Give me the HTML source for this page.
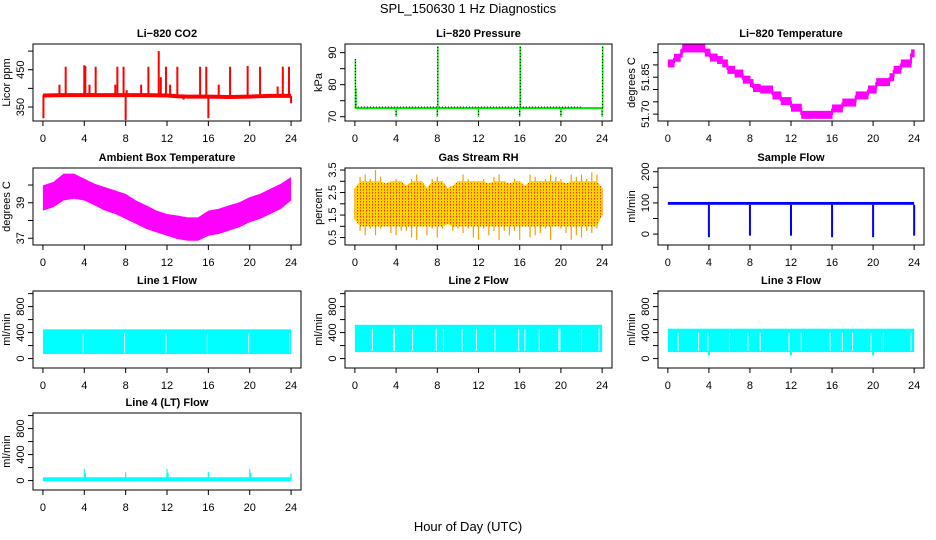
<!DOCTYPE html>
<html><head><meta charset="utf-8"><style>
html,body{margin:0;padding:0;background:#fff;}
svg{display:block;font-family:"Liberation Sans",Arial,sans-serif;}
</style></head><body>
<svg id="c" width="936" height="540" xmlns="http://www.w3.org/2000/svg">
<text x="468" y="13" text-anchor="middle" font-size="13">SPL_150630  1 Hz Diagnostics</text>
<text x="468" y="531" text-anchor="middle" font-size="13">Hour of Day (UTC)</text>
</svg>
<script>
// ---------- data ----------
const xTicks = [0,4,8,12,16,20,24];
// CO2
const co2BaseHours = [0,2,4,6,8,10,12,13,14,16,18,20,22,24];
const co2BaseValues = [381,382,382,382,382,382,381,379,378,378,377,378,380,380];
const co2SpikeHours = [0.05,1.6,2.2,4.0,4.1,4.5,5.1,7.0,7.2,7.8,8.0,8.1,9.5,10.2,11.2,11.4,11.9,12.3,13.0,13.6,15.2,15.8,16.0,17.0,18.1,19.8,20.0,21.0,22.7,23.2,23.8,24.0];
const co2SpikeValues = [320,410,458,462,460,410,458,410,458,458,315,395,410,458,500,430,458,410,458,370,458,458,320,410,458,460,375,458,405,458,458,360];
// Pressure
const presBase = 72.7;
const presSpikeHours = [0.05,0.1,4,8,8.05,12,16,16.05,20,24,24.05];
const presSpikeValues = [88,79,70,70,92,70,70,92,70,70,92];
// Li-820 temperature steps
const tStepStart = [0,0.6,1.2,1.4,3.6,4.1,4.8,5.3,5.8,6.5,7.3,8,8.3,9,10.2,11,12,13,16,17,18.3,19.5,20.3,21.6,22,22.7,23.7];
const tStepEnd =   [0.6,1.2,1.4,3.6,4.1,4.8,5.3,5.8,6.5,7.3,8,8.3,9,10.2,11,12,13,16,17,18.3,19.5,20.3,21.6,22,22.7,23.7,24];
const tStepValue = [51.906,51.929,51.947,51.967,51.950,51.930,51.920,51.906,51.880,51.865,51.840,51.826,51.806,51.800,51.776,51.753,51.726,51.697,51.723,51.747,51.776,51.800,51.830,51.850,51.880,51.906,51.947];
// Ambient box temperature envelope (hourly)
const ambHours = [0,1,2,3,4,5,6,7,8,9,10,11,12,13,14,15,16,17,18,19,20,21,22,23,24];
const ambMax = [39.98,40.17,40.64,40.64,40.36,40.07,39.88,39.69,39.5,39.13,38.85,38.56,38.37,38.28,38.18,38.18,38.56,38.66,38.85,39.03,39.32,39.5,39.79,40.07,40.45];
const ambMin = [38.56,38.75,39.13,39.23,39.13,38.85,38.56,38.37,38.09,37.81,37.52,37.33,37.14,36.96,36.86,36.86,37.14,37.24,37.43,37.62,37.9,38.09,38.37,38.65,39.13];
// Gas stream RH envelope (half-hourly)
const rhHours = [0,0.5,1,1.5,2,2.5,3,3.5,4,4.5,5,5.5,6,6.5,7,7.5,8,8.5,9,9.5,10,10.5,11,11.5,12,12.5,13,13.5,14,14.5,15,15.5,16,16.5,17,17.5,18,18.5,19,19.5,20,20.5,21,21.5,22,22.5,23,23.5,24];
const rhMax = [2.7,3.2,3.3,3.1,3.5,3.2,2.9,3.0,3.1,3.0,2.8,3.1,3.3,3.0,2.7,3.1,3.2,3.0,2.7,2.8,3.0,3.3,3.1,3.0,3.0,3.1,2.9,3.2,3.3,3.0,2.9,3.1,3.0,2.8,3.3,3.2,3.0,3.1,3.3,3.2,3.1,2.9,3.3,3.2,3.3,3.1,3.4,3.3,2.7];
const rhMin = [1.3,0.8,0.6,0.9,0.6,0.9,1.0,0.7,0.6,0.8,0.8,0.5,0.4,1.0,0.6,0.9,0.5,0.9,1.1,0.8,0.9,0.7,0.9,0.5,0.4,0.9,0.6,0.8,0.4,0.8,0.6,0.8,0.4,1.0,0.5,0.6,0.7,0.9,0.4,1.0,0.9,0.7,0.4,0.6,0.5,0.8,0.7,0.9,1.5];
const rhCoreMax = 2.7, rhCoreMin = 1.3;
// Sample flow
const sfLow = 94, sfHigh = 103;
const sfDipHours = [4,8,12,16,20,24];
const sfDipValues = [-10,-5,-5,-10,-10,-5];
// Line flows
const l1Low = 70, l1High = 450;
const l1GapHours = [3.9,7.9,11.9,15.9,19.9,23.85];
const l2Low = 100, l2High = 520;
const l2GapHours = [1.7,3.75,3.85,5.6,7.9,8.6,10.4,11.8,13.6,15.9,16.5,17.9,19.8,19.9,22.0,23.7];
const l3Low = 100, l3High = 460;
const l3GapHours = [1.0,3.0,3.9,6.0,7.8,9.0,11.8,13.0,15.8,17.0,18.0,19.8,21.0,23.7];
const l3DipHours = [4.0,12.0,20.0];
const l3DipValues = [50,50,50];
// Line 4
const l4Base = 20;
const l4SpikeHours = [4.0,4.1,8.0,12.0,12.1,16.0,20.0,20.1,24.0];
const l4SpikeValues = [180,120,130,180,120,130,180,120,110];

// ---------- layout ----------
const svg = document.getElementById('c');
const NS = 'http://www.w3.org/2000/svg';
function el(tag, attrs, parent){const e=document.createElementNS(NS,tag);for(const k in attrs)e.setAttribute(k,attrs[k]);(parent||svg).appendChild(e);return e;}
const colX = [33,345,658], colW = [268,267,266];
const rowY = [44,168,291,413], rowH = 77;
function mkPanel(c,r,ymin,ymax,title,ylab,ticks,labels,name){
  const p={x:colX[c],y:rowY[r],w:colW[c],h:rowH,ymin,ymax};
  const g=el('g',{});
  
  
  p.g=g;
  p.sx=h=>p.x+p.w*(0.04+h/24)/1.08;
  p.sy=v=>p.y+p.h*(1-(v-ymin)/(ymax-ymin));
  const t=el('text',{x:p.x+p.w/2,y:p.y-7,'text-anchor':'middle','font-size':11,'font-weight':'bold'},g);
  t.textContent=title;
  
  
  const cid='clip'+c+r;
  const cp=el('clipPath',{id:cid},g);el('rect',{x:p.x,y:p.y,width:p.w,height:p.h},cp);
  p.pg=el('g',{'clip-path':'url(#'+cid+')'},g);
  p.axes=function(){
    const b=el('rect',{x:p.x,y:p.y,width:p.w,height:p.h,fill:'none',stroke:'#000','stroke-width':1},g);
    
    
    const by=p.y+p.h;
    el('line',{x1:p.sx(0),x2:p.sx(24),y1:by,y2:by,stroke:'#000'},g);
    xTicks.forEach(h=>{
      const X=p.sx(h);
      el('line',{x1:X,x2:X,y1:by,y2:by+5,stroke:'#000'},g);
      const tx=el('text',{x:X,y:by+21,'text-anchor':'middle','font-size':11},g);
      tx.textContent=h;
      
      
    });
    const lx=p.x;
    el('line',{x1:lx,x2:lx,y1:p.sy(ticks[0]),y2:p.sy(ticks[ticks.length-1]),stroke:'#000'},g);
    ticks.forEach(v=>{const Y=p.sy(v);el('line',{x1:lx-5,x2:lx,y1:Y,y2:Y,stroke:'#000'},g);});
    labels.forEach(v=>{
      const Y=p.sy(v);
      const tx=el('text',{x:0,y:0,transform:'translate('+(lx-9)+','+Y+') rotate(-90)','text-anchor':'middle','font-size':11},g);
      tx.textContent=v;
      
      
    });
    const yt=el('text',{x:0,y:0,transform:'translate('+(lx-23)+','+(p.y+p.h/2)+') rotate(-90)','text-anchor':'middle','font-size':11},g);
    yt.textContent=ylab;
    
    
  };
  return p;
}
function vline(p,h,v1,v2,col,w){return el('line',{x1:p.sx(h),x2:p.sx(h),y1:p.sy(v1),y2:p.sy(v2),stroke:col,'stroke-width':w},p.pg);}
function band(p,hs,hi,lo,col){
  let d='M'+hs.map((h,i)=>p.sx(h)+','+p.sy(hi[i])).join('L');
  for(let i=hs.length-1;i>=0;i--)d+='L'+p.sx(hs[i])+','+p.sy(lo[i]);
  return el('path',{d:d+'Z',fill:col},p.pg);
}

// 1. CO2
let p=mkPanel(0,0,312.5,519,'Li\u2212820 CO2','Licor ppm',[350,400,450,500],[350,450],'co2');
co2SpikeHours.forEach((h,i)=>{
  const base=co2BaseValues[Math.min(co2BaseValues.length-1,co2BaseHours.findIndex(x=>x>=h))];
  const s=vline(p,h,base,co2SpikeValues[i],'#ff0000',2);
  
  
});
let ln=el('polyline',{points:co2BaseHours.map((h,i)=>p.sx(h)+','+p.sy(co2BaseValues[i])).join(' '),fill:'none',stroke:'#ff0000','stroke-width':4},p.pg);


p.axes();

// 2. Pressure
p=mkPanel(1,0,68.66,92.7,'Li\u2212820 Pressure','kPa',[70,75,80,85,90],[70,80,90],'pressure');
presSpikeHours.forEach((h,i)=>{
  const s=vline(p,h,presBase,presSpikeValues[i],'#00ee00',1.5);
  
  
  const d=vline(p,h,presBase,presSpikeValues[i],'#000',1);d.setAttribute('stroke-dasharray','1,2');
});
ln=el('line',{x1:p.sx(0),x2:p.sx(24),y1:p.sy(presBase),y2:p.sy(presBase),stroke:'#00ee00','stroke-width':2},p.pg);


el('line',{x1:p.sx(0),x2:p.sx(22),y1:p.sy(presBase)-1,y2:p.sy(presBase)-1,stroke:'#000','stroke-width':1,'stroke-dasharray':'1,2'},p.pg);
p.axes();

// 3. Li-820 temp
p=mkPanel(2,0,51.672,51.985,'Li\u2212820 Temperature','degrees C',[51.7,51.75,51.8,51.85,51.9,51.95],['51.70','51.85'],'licor-temp');
tStepStart.forEach((s,i)=>{
  const r=el('rect',{x:p.sx(s),y:p.sy(tStepValue[i])-4,width:p.sx(tStepEnd[i])-p.sx(s)+0.5,height:8,fill:'#ff00ff'},p.pg);
  
  
  if(i>0) vline(p,s,tStepValue[i-1],tStepValue[i],'#ff00ff',2);
});
p.axes();

// 4. Ambient
p=mkPanel(0,1,36.62,40.96,'Ambient Box Temperature','degrees C',[37,38,39,40],[37,39],'ambient-temp');
let b=band(p,ambHours,ambMax,ambMin,'#ff00ff');


p.axes();

// 5. RH
p=mkPanel(1,1,0.17,3.59,'Gas Stream RH','percent',[0.5,1,1.5,2,2.5,3,3.5],[0.5,1.5,2.5,3.5],'rh');
const defs=el('defs',{});
const pat=el('pattern',{id:'rhpat',width:3,height:3,patternUnits:'userSpaceOnUse'},defs);
el('rect',{width:3,height:3,fill:'#ffd200'},pat);el('rect',{width:1,height:1.5,fill:'#ff3000'},pat);
rhHours.forEach((h,i)=>{
  const s=vline(p,h,rhMin[i],rhMax[i],'#f5a000',1.2);
  
  
});
b=band(p,rhHours,rhMax.map(v=>Math.min(v,rhCoreMax+0.3)),rhMin.map(v=>Math.max(v,rhCoreMin-0.3)),'url(#rhpat)');


p.axes();

// 6. Sample flow
p=mkPanel(2,1,-35,212,'Sample Flow','ml/min',[0,50,100,150,200],[0,100,200],'sample-flow');
b=el('rect',{x:p.sx(0),y:p.sy(sfHigh),width:p.sx(24)-p.sx(0),height:p.sy(sfLow)-p.sy(sfHigh),fill:'#0000ff'},p.pg);


sfDipHours.forEach((h,i)=>{
  const s=vline(p,h,sfLow,sfDipValues[i],'#0000ff',2);
  
  
});
p.axes();

// 7-9 line flows
function flowPanel(c,r,title,name,lo,hi,gaps,dipH,dipV){
  const q=mkPanel(c,r,-145,1040,title,'ml/min',[0,200,400,600,800,1000],[0,400,800],name);
  const bb=el('rect',{x:q.sx(0),y:q.sy(hi),width:q.sx(24)-q.sx(0),height:q.sy(lo)-q.sy(hi),fill:'#00ffff'},q.pg);
  
  
  gaps.forEach(h=>{vline(q,h,lo+20,hi-60,'#ffffff',1);});
  dipH.forEach((h,i)=>{const s=vline(q,h,lo,dipV[i],'#00ffff',2);
    
    });
  q.axes();
}
flowPanel(0,2,'Line 1 Flow','line1-flow',l1Low,l1High,l1GapHours,[],[]);
flowPanel(1,2,'Line 2 Flow','line2-flow',l2Low,l2High,l2GapHours,[],[]);
flowPanel(2,2,'Line 3 Flow','line3-flow',l3Low,l3High,l3GapHours,l3DipHours,l3DipValues);

// 10 Line 4
p=mkPanel(0,3,-145,1040,'Line 4 (LT) Flow','ml/min',[0,200,400,600,800,1000],[0,400,800],'line4-flow');
l4SpikeHours.forEach((h,i)=>{
  const s=vline(p,h,l4Base,l4SpikeValues[i],'#00ffff',1.2);
  
  
});
ln=el('line',{x1:p.sx(0),x2:p.sx(24),y1:p.sy(l4Base),y2:p.sy(l4Base),stroke:'#00ffff','stroke-width':4},p.pg);


p.axes();
</script>
</body></html>
